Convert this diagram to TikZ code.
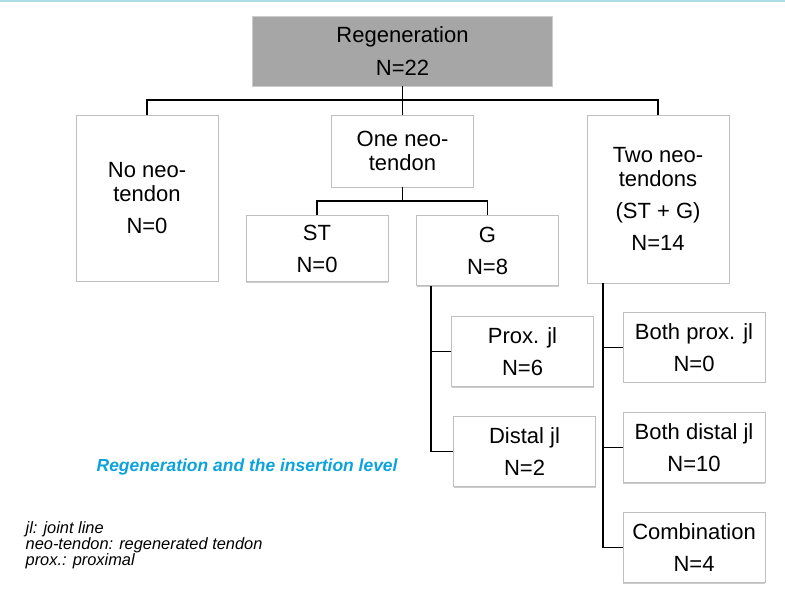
\documentclass[tikz,border=0pt]{standalone}
\usepackage{fontspec}
\setmainfont{Liberation Sans}
\usetikzlibrary{shadows}
\definecolor{boxgray}{RGB}{166,166,166}
\definecolor{titleblue}{RGB}{12,162,220}
\definecolor{rulecyan}{RGB}{172,222,228}
\tikzset{
    every path/.style={line width=1pt},
    a/.style={rectangle, draw=black!25, line width=0.6pt, fill=white,
        align=center, inner sep=2pt, minimum width=106.5pt,
        font=\fontsize{16.5}{18}\selectfont,
        drop shadow={shadow xshift=0.3pt, shadow yshift=-0.9pt, opacity=0.4}},
    top/.style={a, fill=boxgray, draw=black!20, minimum width=225pt},
    heading/.style={inner sep=0pt, text=titleblue,
        font=\fontsize{13.1}{15}\selectfont\bfseries\itshape},
    legend/.style={inner sep=0pt, align=left,
        font=\fontsize{12.3}{12}\selectfont\itshape},
    rule/.style={rulecyan, line width=1.2pt}
}

\begin{document}
\begin{tikzpicture}[x=0.75pt, y=-0.75pt]
\useasboundingbox (0,0) rectangle (785,600);
\draw[rule] (0,1) -- (785,1);

\node[top, minimum height=52.5pt] at (402.5,51) (n00) {Regeneration\\[7pt]N=22};

\node[a, minimum height=124.5pt] at (147,198) (n10) {No neo-\\tendon\\[6pt]N=0};
\node[a, minimum height=54pt] at (402.5,151) (n11) {One neo-\\tendon};
\node[a, minimum height=126pt] at (658,199) (n12) {Two neo-\\tendons\\[6pt](ST + G)\\[6pt]N=14};

\node[a, minimum height=50pt] at (317,248.5) (n20) {ST\\[6pt]N=0};
\node[a, minimum height=53pt] at (487.5,250.5) (n21) {G\\[6pt]N=8};

\node[a, minimum height=53pt] at (522.5,351.5) (n30) {Prox. jl\\[6pt]N=6};
\node[a, minimum height=53pt] at (524.5,451.5) (n31) {Distal jl\\[6pt]N=2};
\node[a, minimum height=52pt] at (694,347.5) (n32) {Both prox. jl\\[6pt]N=0};
\node[a, minimum height=53pt] at (694,447.5) (n33) {Both distal jl\\[6pt]N=10};
\node[a, minimum height=53pt] at (694,547.5) (n34) {Combination\\[6pt]N=4};

\node[heading, anchor=west] at (96,467) (t0) {Regeneration and the insertion level};
\node[legend, anchor=west] at (25,545) (t1) {jl: joint line\\neo-tendon: regenerated tendon\\prox.: proximal};

\coordinate (c0) at (402.5,100);
\coordinate (c1) at (402.5,201);
\coordinate (c2) at (431,286);
\coordinate (c3) at (603,283);

\draw (n00.south) -- (n11.north);
\draw (n10.north) |- (c0) -| (n12.north);

\draw (n11.south) -- (c1);
\draw (n20.north) |- (c1) -| (n21.north);

\draw (c2) |- (n30.west);
\draw (c2) |- (n31.west);

\draw (c3) |- (n32.west);
\draw (c3) |- (n33.west);
\draw (c3) |- (n34.west);
\end{tikzpicture}
\end{document}
